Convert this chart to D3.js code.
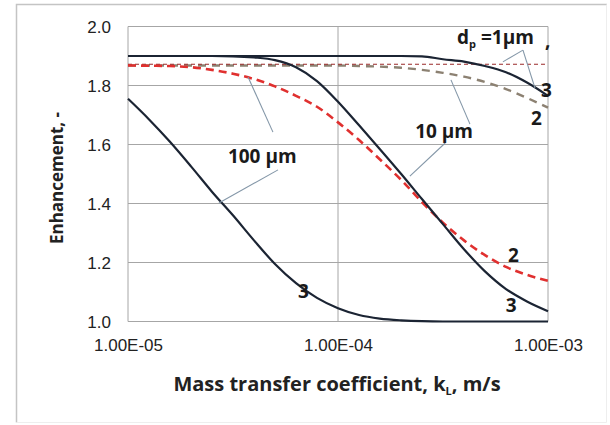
<!DOCTYPE html>
<html>
<head>
<meta charset="utf-8">
<script src="https://cdn.jsdelivr.net/npm/d3@7"></script>
<style>
  body { margin: 0; background: #fff; }
  svg { display: block; font-family: "Open Sans", sans-serif; }
  .grid line { stroke: #a6a6a6; stroke-width: 1; }
  .tick-label { font-size: 17px; fill: #222; }
  .title { font-size: 19px; font-weight: bold; fill: #222; }
  .note { font-size: 19px; font-weight: bold; fill: #1a1a1a; }
  .leader { stroke: #8497a8; stroke-width: 1.1; fill: none; }
</style>
</head>
<body>
<script>
// mass transfer coefficient kL (m/s), read at 10 points per decade
var kL = [1e-5, 1.26e-5, 1.58e-5, 2e-5, 2.51e-5, 3.16e-5, 3.98e-5, 5.01e-5, 6.31e-5, 7.94e-5,
          1e-4, 1.26e-4, 1.58e-4, 2e-4, 2.51e-4, 3.16e-4, 3.98e-4, 5.01e-4, 6.31e-4, 7.94e-4, 1e-3];

// enhancement, dp = 100 um (3 = solid, 2 = dashed)
var d100_3 = [1.755, 1.685, 1.61, 1.525, 1.44, 1.36, 1.275, 1.195, 1.13, 1.08,
              1.045, 1.022, 1.01, 1.004, 1.001, 1.0, 1.0, 1.0, 1.0, 1.0, 1.0];
var d100_2 = [1.868, 1.867, 1.866, 1.862, 1.853, 1.840, 1.822, 1.797, 1.765, 1.728,
              1.675, 1.615, 1.55, 1.48, 1.405, 1.335, 1.275, 1.225, 1.185, 1.158, 1.138];
// dp = 10 um
var d10_3 = [1.90, 1.90, 1.90, 1.90, 1.90, 1.899, 1.895, 1.886, 1.862, 1.815,
             1.745, 1.665, 1.585, 1.50, 1.415, 1.33, 1.245, 1.17, 1.11, 1.068, 1.035];
var d10_2 = [1.868, 1.868, 1.868, 1.868, 1.868, 1.868, 1.868, 1.868, 1.868, 1.868,
             1.868, 1.866, 1.864, 1.86, 1.853, 1.843, 1.83, 1.812, 1.788, 1.758, 1.725];
// dp = 1 um
var d1_3 = [1.90, 1.90, 1.90, 1.90, 1.90, 1.90, 1.90, 1.90, 1.90, 1.90,
            1.90, 1.90, 1.90, 1.90, 1.899, 1.889, 1.881, 1.866, 1.845, 1.81, 1.765];
var d1_2 = [1.872, 1.872, 1.872, 1.872, 1.872, 1.872, 1.872, 1.872, 1.872, 1.872,
            1.872, 1.872, 1.872, 1.872, 1.872, 1.872, 1.872, 1.872, 1.872, 1.872, 1.872];

var xTickValues = [1e-5, 1e-4, 1e-3];
var xTickLabels = ["1.00E-05", "1.00E-04", "1.00E-03"];
var yTickValues = [1.0, 1.2, 1.4, 1.6, 1.8, 2.0];

// curve annotations: [kL, E, text]
var curveNotes = [
  [9.27e-4, 1.761, "3"], [8.3e-4, 1.666, "2"],
  [6.45e-4, 1.202, "2"], [6.3e-4, 1.032, "3"],
  [6.45e-5, 1.08, "3"]
];
var sizeNotes = [[2.33e-4, 1.622, "10 µm"], [2.99e-5, 1.537, "100 µm"]];
// leader lines: [kL1, E1, kL2, E2]
var leaders = [
  [7.6e-4, 1.92, 6.1e-4, 1.88], [7.6e-4, 1.92, 8.67e-4, 1.791],
  [3.45e-4, 1.819, 4.25e-4, 1.669], [3.24e-4, 1.605, 2.2e-4, 1.493],
  [3.73e-5, 1.829, 4.9e-5, 1.642], [5.18e-5, 1.514, 2.71e-5, 1.402]
];

var width = 610, height = 425;
var margin = { top: 26.5, right: 62, bottom: 103.5, left: 128 };

var svg = d3.select("body").append("svg")
  .attr("width", width)
  .attr("height", height);

// outer frame
svg.append("path")
  .attr("d", "M16.5,422.5 V4.5 H607")
  .attr("fill", "none").attr("stroke", "#c4c4c4").attr("stroke-width", 1.5);
svg.append("path")
  .attr("d", "M16.5,422.5 H606.5 V4.5")
  .attr("fill", "none").attr("stroke", "#eeeeee").attr("stroke-width", 1);

var x = d3.scaleLog().domain([1e-5, 1e-3]).range([margin.left, width - margin.right]);
var y = d3.scaleLinear().domain([1, 2]).range([height - margin.bottom, margin.top]);

// grid
var grid = svg.append("g").attr("class", "grid");
grid.selectAll(".h").data(yTickValues).enter().append("line")
  .attr("x1", x(1e-5)).attr("x2", x(1e-3))
  .attr("y1", function(d) { return y(d); })
  .attr("y2", function(d) { return y(d); });
grid.selectAll(".v").data(xTickValues).enter().append("line")
  .attr("x1", function(d) { return x(d); })
  .attr("x2", function(d) { return x(d); })
  .attr("y1", y(1)).attr("y2", y(2));

// axes (labels only, no ticks)
var xAxis = d3.axisBottom(x).tickValues(xTickValues).tickSize(0)
  .tickFormat(function(d, i) { return xTickLabels[i]; });
var gx = svg.append("g")
  .attr("transform", "translate(0," + y(1) + ")")
  .call(xAxis);
gx.select(".domain").remove();
gx.selectAll("text").attr("class", "tick-label").attr("dy", "1.55em").attr("font-family", null).attr("font-size", null);

var yAxis = d3.axisLeft(y).tickValues(yTickValues).tickSize(0).tickFormat(d3.format(".1f"));
var gy = svg.append("g")
  .attr("transform", "translate(" + (x(1e-5) - 17) + ",0)")
  .call(yAxis);
gy.select(".domain").remove();
gy.selectAll("text").attr("class", "tick-label").attr("x", 0).attr("dy", "0.35em").attr("font-family", null).attr("font-size", null);

// axis titles
var xt = svg.append("text").attr("class", "title")
  .attr("x", 337).attr("y", 391).attr("text-anchor", "middle")
  .style("font-size", "20px");
xt.append("tspan").text("Mass transfer coefficient,  k");
xt.append("tspan").attr("font-size", "11px").attr("dy", 4).text("L");
xt.append("tspan").attr("dy", -4).text(", m/s");

svg.append("text").attr("class", "title")
  .attr("transform", "translate(63,178) rotate(-90)")
  .attr("text-anchor", "middle")
  .style("font-size", "17px")
  .text("Enhancement, -");

// curves
var line = d3.line()
  .x(function(d, i) { return x(kL[i]); })
  .y(function(d) { return y(d); })
  .curve(d3.curveMonotoneX);

var series = [
  { values: d10_2, color: "#8c8172", width: 2.4, dash: "8,6" },
  { values: d1_2, color: "#9b2a2a", width: 1.2, dash: "4,3" },
  { values: d100_2, color: "#e0302f", width: 2.6, dash: "8,5" },
  { values: d1_3, color: "#1b2433", width: 2.2, dash: null },
  { values: d10_3, color: "#1b2433", width: 2.2, dash: null },
  { values: d100_3, color: "#1b2433", width: 2.2, dash: null }
];

svg.selectAll(".curve").data(series).enter().append("path")
  .attr("class", "curve")
  .attr("fill", "none")
  .attr("stroke", function(d) { return d.color; })
  .attr("stroke-width", function(d) { return d.width; })
  .attr("stroke-dasharray", function(d) { return d.dash; })
  .attr("d", function(d) { return line(d.values); });

// leader lines
svg.selectAll(".leader").data(leaders).enter().append("line")
  .attr("class", "leader")
  .attr("x1", function(d) { return x(d[0]); })
  .attr("y1", function(d) { return y(d[1]); })
  .attr("x2", function(d) { return x(d[2]); })
  .attr("y2", function(d) { return y(d[3]); });

// annotations
svg.selectAll(".cn").data(curveNotes).enter().append("text")
  .attr("class", "note")
  .attr("x", function(d) { return x(d[0]); })
  .attr("y", function(d) { return y(d[1]); })
  .text(function(d) { return d[2]; });

svg.selectAll(".sn").data(sizeNotes).enter().append("text")
  .attr("class", "note")
  .attr("x", function(d) { return x(d[0]); })
  .attr("y", function(d) { return y(d[1]); })
  .text(function(d) { return d[2]; });

var dp = svg.append("text").attr("class", "note")
  .attr("x", x(3.69e-4)).attr("y", y(1.941));
dp.append("tspan").text("d");
dp.append("tspan").attr("font-size", "11px").attr("dy", 4).text("p");
dp.append("tspan").attr("dy", -4).text(" =1µm");

svg.append("text").attr("class", "note")
  .attr("x", x(9.68e-4)).attr("y", y(1.93))
  .text(",");
</script>
</body>
</html>
